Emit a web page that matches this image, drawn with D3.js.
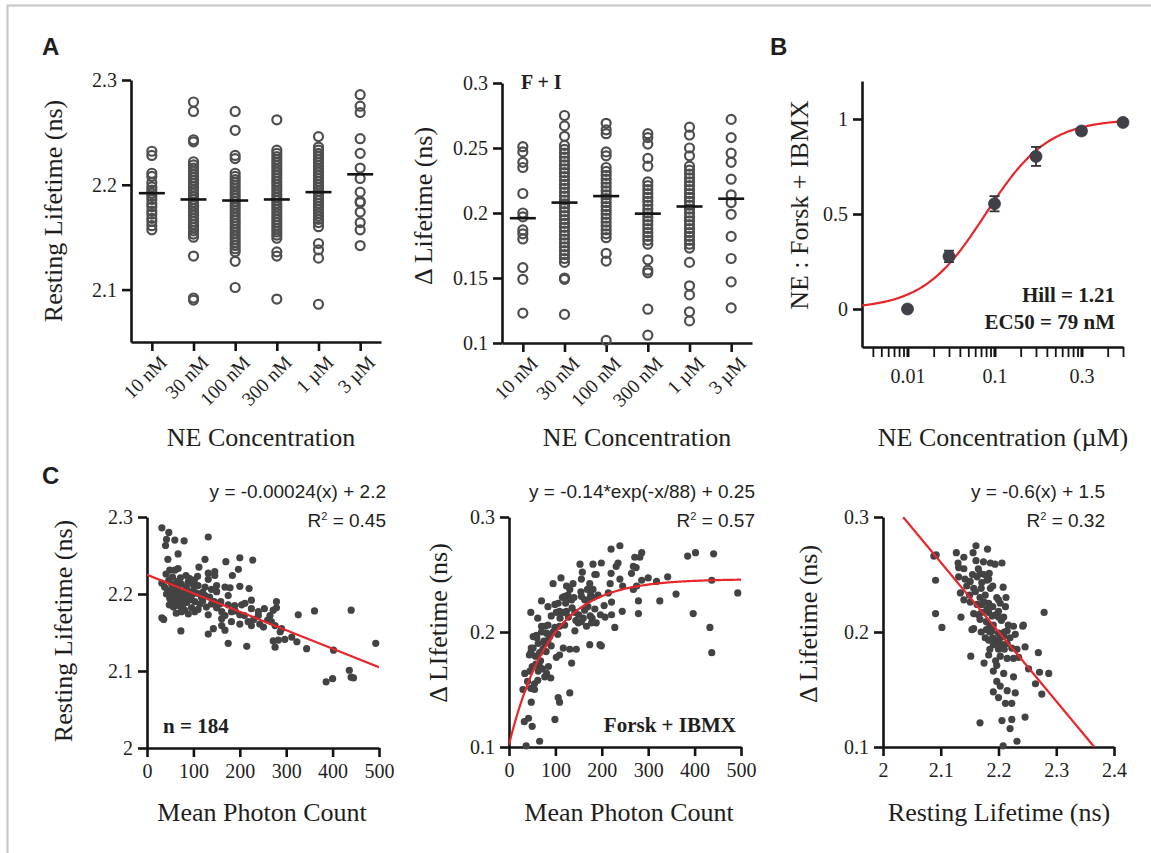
<!DOCTYPE html>
<html>
<head>
<meta charset="utf-8">
<script src="https://cdn.jsdelivr.net/npm/d3@7"></script>
<style>
  body { margin: 0; background: #fff; }
  svg text { font-family: "Liberation Serif", serif; fill: #1e1e1e; }
</style>
</head>
<body>
<svg id="fig" width="1151" height="853"></svg>
<script>
// ---------- Panel A: resting and Δ lifetime per NE concentration ----------
const concLabels = ["10 nM", "30 nM", "100 nM", "300 nM", "1 µM", "3 µM"];

const restingByConc = [
  [2.232, 2.228, 2.211, 2.208, 2.202, 2.198, 2.195, 2.192, 2.189, 2.186, 2.182, 2.179, 2.175, 2.172, 2.168, 2.165, 2.161, 2.157],
  [2.279, 2.270, 2.243, 2.241, 2.222, 2.219, 2.216, 2.213, 2.210, 2.207, 2.204, 2.201, 2.198, 2.195, 2.192, 2.189, 2.186, 2.183, 2.180, 2.177, 2.174, 2.171, 2.168, 2.165, 2.162, 2.159, 2.156, 2.153, 2.150, 2.132, 2.092, 2.090],
  [2.270, 2.252, 2.228, 2.225, 2.211, 2.208, 2.205, 2.202, 2.199, 2.196, 2.193, 2.190, 2.187, 2.184, 2.181, 2.178, 2.175, 2.172, 2.169, 2.166, 2.163, 2.160, 2.157, 2.154, 2.151, 2.148, 2.145, 2.142, 2.139, 2.136, 2.127, 2.102],
  [2.262, 2.233, 2.230, 2.227, 2.224, 2.221, 2.218, 2.215, 2.212, 2.209, 2.206, 2.203, 2.200, 2.197, 2.194, 2.191, 2.188, 2.185, 2.182, 2.179, 2.176, 2.173, 2.170, 2.167, 2.164, 2.161, 2.158, 2.155, 2.152, 2.149, 2.136, 2.132, 2.091],
  [2.246, 2.236, 2.233, 2.230, 2.227, 2.224, 2.221, 2.218, 2.215, 2.212, 2.209, 2.206, 2.203, 2.200, 2.197, 2.194, 2.191, 2.188, 2.185, 2.182, 2.179, 2.176, 2.173, 2.170, 2.167, 2.164, 2.160, 2.144, 2.138, 2.130, 2.086],
  [2.286, 2.275, 2.269, 2.244, 2.230, 2.216, 2.206, 2.193, 2.184, 2.183, 2.174, 2.164, 2.157, 2.142]
];
const restingMeans = [2.192, 2.186, 2.185, 2.186, 2.193, 2.210];

const deltaByConc = [
  [0.251, 0.247, 0.239, 0.235, 0.215, 0.200, 0.197, 0.187, 0.184, 0.180, 0.158, 0.149, 0.123],
  [0.275, 0.267, 0.259, 0.252, 0.249, 0.246, 0.243, 0.240, 0.237, 0.234, 0.231, 0.228, 0.225, 0.222, 0.219, 0.216, 0.213, 0.210, 0.207, 0.204, 0.201, 0.198, 0.195, 0.192, 0.189, 0.186, 0.183, 0.180, 0.177, 0.174, 0.171, 0.168, 0.165, 0.162, 0.150, 0.149, 0.122],
  [0.269, 0.264, 0.261, 0.247, 0.244, 0.235, 0.232, 0.229, 0.226, 0.223, 0.220, 0.217, 0.214, 0.211, 0.208, 0.205, 0.202, 0.199, 0.196, 0.193, 0.190, 0.187, 0.184, 0.181, 0.169, 0.163, 0.102],
  [0.261, 0.258, 0.253, 0.242, 0.236, 0.224, 0.221, 0.218, 0.215, 0.212, 0.209, 0.206, 0.203, 0.200, 0.197, 0.194, 0.191, 0.188, 0.185, 0.182, 0.179, 0.176, 0.164, 0.156, 0.154, 0.126, 0.106],
  [0.266, 0.260, 0.250, 0.244, 0.236, 0.233, 0.230, 0.227, 0.224, 0.221, 0.218, 0.215, 0.212, 0.209, 0.206, 0.203, 0.200, 0.197, 0.194, 0.191, 0.188, 0.185, 0.182, 0.179, 0.176, 0.173, 0.162, 0.144, 0.137, 0.124, 0.117],
  [0.272, 0.258, 0.246, 0.239, 0.226, 0.214, 0.208, 0.199, 0.182, 0.165, 0.147, 0.127]
];
const deltaMeans = [0.196, 0.208, 0.213, 0.1995, 0.205, 0.211];

const restingTicks = [2.1, 2.2, 2.3];
const deltaTicksA = [0.1, 0.15, 0.2, 0.25, 0.3];

// ---------- Panel B: dose-response ----------
const doseConc = [0.01, 0.03, 0.1, 0.3, 1, 3];
const doseResp = [0.0, 0.277, 0.554, 0.803, 0.937, 0.982];
const doseErr  = [0.0, 0.030, 0.040, 0.050, 0.015, 0.010];
const hillCoef = 1.21;
const ec50 = 0.079;          // µM
const doseYTicks = [0, 0.5, 1];
const doseYLabels = ["0", "0.5", "1"];
const doseXTicks = [0.01, 0.1, 1];
const doseXLabels = ["0.01", "0.1", "0.3"];

// ---------- Panel C: per-cell scatter ----------
const photonVsResting = [
  [32,2.286],[47,2.280],[42,2.271],[40,2.263],[60,2.270],[80,2.269],[132,2.274],[67,2.252],[45,2.245],[125,2.245],
  [200,2.247],[228,2.244],[170,2.242],[112,2.235],[197,2.232],[146,2.229],[132,2.227],[49,2.231],[60,2.231],[67,2.233],
  [41,2.226],[84,2.224],[146,2.224],[184,2.224],[109,2.223],[92,2.220],[132,2.219],[32,2.214],[47,2.218],[53,2.213],
  [63,2.211],[74,2.213],[89,2.216],[99,2.213],[110,2.211],[125,2.209],[139,2.206],[150,2.211],[168,2.209],[179,2.208],
  [200,2.210],[220,2.207],[67,2.207],[85,2.209],[54,2.203],[63,2.198],[49,2.194],[74,2.196],[58,2.190],[45,2.205],
  [38,2.209],[71,2.190],[81,2.192],[96,2.198],[103,2.190],[117,2.196],[125,2.198],[135,2.196],[150,2.203],[175,2.198],
  [159,2.190],[175,2.186],[189,2.185],[204,2.186],[211,2.188],[225,2.192],[279,2.190],[139,2.187],[114,2.187],[128,2.183],
  [96,2.182],[81,2.179],[63,2.175],[89,2.174],[74,2.177],[103,2.177],[132,2.173],[157,2.187],[161,2.177],[168,2.172],
  [182,2.177],[200,2.173],[210,2.172],[225,2.181],[240,2.177],[253,2.181],[240,2.172],[272,2.179],[279,2.182],[265,2.172],
  [326,2.173],[361,2.178],[440,2.179],[32,2.169],[36,2.167],[161,2.168],[182,2.164],[200,2.161],[218,2.164],[225,2.159],
  [243,2.161],[251,2.157],[268,2.164],[276,2.159],[290,2.155],[287,2.151],[161,2.159],[168,2.153],[143,2.155],[132,2.148],
  [73,2.152],[175,2.136],[215,2.132],[276,2.131],[272,2.139],[283,2.140],[297,2.141],[312,2.144],[323,2.138],[344,2.129],
  [402,2.127],[436,2.101],[493,2.136],[386,2.086],[400,2.090],[440,2.092],[445,2.091],[56,2.200],[60,2.205],[66,2.202],
  [70,2.199],[52,2.197],[58,2.208],[78,2.201],[84,2.197],[90,2.202],[62,2.193],[68,2.185],[77,2.186],[86,2.189],
  [94,2.193],[108,2.201],[100,2.205],[120,2.202],[57,2.183],[110,2.180],[145,2.190],[150,2.182],[190,2.178],[230,2.167],
  [260,2.166],[120,2.191],[65,2.216],[72,2.221],[55,2.222],[102,2.218],[42,2.200],[48,2.186]
];

const photonVsDelta = [
  [239,0.275],[220,0.272],[286,0.269],[282,0.265],[271,0.265],[385,0.266],[402,0.269],[441,0.268],[235,0.260],[231,0.257],
  [199,0.260],[181,0.259],[153,0.259],[268,0.257],[274,0.256],[264,0.251],[220,0.251],[185,0.250],[158,0.252],[112,0.247],
  [95,0.242],[138,0.242],[156,0.246],[174,0.242],[188,0.250],[239,0.246],[286,0.245],[300,0.247],[318,0.244],[342,0.248],
  [437,0.245],[245,0.240],[268,0.237],[275,0.240],[218,0.242],[214,0.234],[124,0.240],[131,0.237],[155,0.235],[169,0.237],
  [181,0.237],[176,0.232],[156,0.231],[127,0.232],[120,0.231],[70,0.227],[84,0.222],[99,0.224],[106,0.225],[124,0.228],
  [135,0.228],[163,0.228],[181,0.230],[192,0.232],[221,0.226],[279,0.227],[325,0.227],[360,0.233],[493,0.234],[47,0.217],
  [62,0.212],[91,0.214],[102,0.217],[109,0.218],[124,0.218],[142,0.217],[163,0.219],[170,0.222],[179,0.212],[197,0.215],
  [207,0.213],[221,0.215],[244,0.218],[279,0.216],[397,0.216],[70,0.205],[77,0.205],[84,0.206],[99,0.204],[109,0.205],
  [120,0.206],[142,0.201],[149,0.208],[156,0.209],[167,0.205],[178,0.208],[188,0.208],[228,0.204],[199,0.188],[174,0.189],
  [196,0.189],[433,0.204],[437,0.182],[52,0.196],[59,0.197],[48,0.186],[47,0.182],[57,0.179],[63,0.190],[66,0.182],
  [73,0.185],[77,0.190],[81,0.199],[84,0.193],[91,0.188],[102,0.178],[109,0.180],[117,0.186],[131,0.185],[145,0.185],
  [135,0.173],[34,0.164],[30,0.150],[40,0.157],[55,0.150],[47,0.151],[48,0.139],[66,0.170],[63,0.166],[81,0.164],
  [77,0.161],[131,0.147],[106,0.143],[109,0.139],[99,0.124],[33,0.122],[42,0.125],[50,0.118],[37,0.101],[66,0.105],
  [60,0.195],[70,0.200],[75,0.192],[88,0.196],[95,0.200],[110,0.212],[118,0.217],[122,0.225],[128,0.213],[136,0.221],
  [144,0.210],[150,0.215],[160,0.212],[140,0.230],[115,0.230],[105,0.198],[68,0.175],[58,0.172],[50,0.170],[45,0.166],
  [72,0.168],[85,0.170],[90,0.160],[62,0.158],[55,0.155],[44,0.180],[52,0.186],[80,0.183],[170,0.228],[175,0.214],
  [205,0.223],[185,0.220]
];

const restingVsDelta = [
  [2.161,0.275],[2.127,0.269],[2.181,0.272],[2.156,0.269],[2.140,0.265],[2.088,0.266],[2.092,0.267],[2.161,0.262],[2.174,0.261],[2.186,0.260],
  [2.194,0.259],[2.206,0.260],[2.131,0.256],[2.091,0.245],[2.131,0.248],[2.142,0.246],[2.151,0.244],[2.163,0.248],[2.168,0.251],[2.184,0.251],
  [2.171,0.243],[2.183,0.246],[2.157,0.238],[2.186,0.238],[2.208,0.239],[2.134,0.234],[2.140,0.228],[2.168,0.230],[2.177,0.232],[2.197,0.230],
  [2.213,0.230],[2.151,0.226],[2.163,0.224],[2.171,0.224],[2.183,0.225],[2.203,0.225],[2.212,0.222],[2.091,0.216],[2.279,0.217],[2.135,0.213],
  [2.102,0.204],[2.157,0.216],[2.171,0.217],[2.183,0.217],[2.189,0.214],[2.200,0.213],[2.209,0.213],[2.200,0.218],[2.168,0.211],[2.179,0.209],
  [2.191,0.206],[2.217,0.206],[2.226,0.205],[2.242,0.205],[2.243,0.206],[2.154,0.202],[2.157,0.203],[2.179,0.202],[2.189,0.201],[2.200,0.199],
  [2.209,0.196],[2.215,0.201],[2.229,0.198],[2.177,0.195],[2.183,0.193],[2.194,0.193],[2.203,0.195],[2.191,0.189],[2.206,0.189],[2.215,0.190],
  [2.223,0.186],[2.232,0.185],[2.246,0.187],[2.200,0.185],[2.152,0.179],[2.183,0.180],[2.203,0.179],[2.215,0.177],[2.226,0.177],[2.235,0.178],
  [2.269,0.182],[2.175,0.173],[2.197,0.171],[2.191,0.166],[2.209,0.164],[2.226,0.161],[2.252,0.168],[2.271,0.165],[2.287,0.164],[2.264,0.155],
  [2.275,0.146],[2.197,0.157],[2.203,0.153],[2.191,0.148],[2.215,0.149],[2.229,0.147],[2.200,0.143],[2.212,0.138],[2.223,0.138],[2.168,0.121],
  [2.206,0.123],[2.223,0.124],[2.246,0.126],[2.220,0.116],[2.232,0.105],[2.208,0.101],[2.160,0.235],[2.170,0.238],[2.175,0.226],[2.180,0.220],
  [2.190,0.222],[2.195,0.215],[2.185,0.205],[2.170,0.200],[2.190,0.195],[2.205,0.210],[2.210,0.185],[2.200,0.190],[2.185,0.185],[2.195,0.175],
  [2.165,0.215],[2.150,0.232],[2.145,0.240],[2.155,0.250],[2.165,0.255],[2.180,0.245],[2.190,0.240],[2.175,0.250],[2.200,0.228],[2.210,0.200],
  [2.220,0.195],[2.130,0.260],[2.140,0.255],[2.185,0.200]
];

// fitted relationships (as printed on the panels)
const linFit1 = { slope: -0.00024, intercept: 2.225 };
const expFit  = { a: -0.144, tau: 88, c: 0.246 };
const linFit3 = { slope: -0.604, intercept: 1.529 };

const photonTicks = [0, 100, 200, 300, 400, 500];
const restingTicksC = [2, 2.1, 2.2, 2.3];
const deltaTicksC = [0.1, 0.2, 0.3];
const restingXTicks = [2, 2.1, 2.2, 2.3, 2.4];

// ---------- drawing ----------
const svg = d3.select("#fig");
const INK = "#141414";
const DOT = "#434343";
const RED = "#e8262b";
const AXW = 2.6;
const TICK_FS = 20;
const SERIF = "'Liberation Serif', serif";
const SANS = "'Liberation Sans', Arial, sans-serif";

svg.append("rect").attr("x", 7.5).attr("y", 5.5).attr("width", 1200).attr("height", 900)
  .attr("fill", "none").attr("stroke", "#c9c9c9").attr("stroke-width", 2.2);

function styleAxis(g, fs) {
  g.attr("font-size", fs || TICK_FS);
  g.select(".domain").attr("stroke", INK).attr("stroke-width", AXW);
  g.selectAll(".tick line").attr("stroke", INK).attr("stroke-width", AXW);
  g.selectAll(".tick text").style("font-family", SERIF).attr("fill", "#1e1e1e");
  return g;
}

function yTitle(x, y, txt) {
  svg.append("text").attr("transform", `translate(${x},${y}) rotate(-90)`)
    .attr("text-anchor", "middle").attr("font-size", 26).text(txt);
}
function xTitle(x, y, txt) {
  svg.append("text").attr("x", x).attr("y", y).attr("text-anchor", "middle")
    .attr("font-size", 26).text(txt);
}
function panelLetter(x, y, t) {
  svg.append("text").attr("x", x).attr("y", y).text(t)
    .style("font-family", SANS)
    .attr("font-weight", "bold").attr("font-size", 24).attr("fill", "#000");
}

panelLetter(42, 55, "A");
panelLetter(770, 55, "B");
panelLetter(42, 484, "C");

// strip plot with open circles and mean bars
function stripPanel(opts) {
  const x = d3.scalePoint().domain(concLabels).range([opts.x0, opts.x1]).padding(0.5);
  const y = d3.scaleLinear().domain(opts.yDomain).range([opts.yBottom, opts.yTop]);

  const gy = svg.append("g").attr("transform", `translate(${opts.x0},0)`)
    .call(d3.axisLeft(y).tickValues(opts.yTicks).tickFormat(d => String(d)).tickSize(9).tickSizeOuter(0).tickPadding(5));
  styleAxis(gy);
  const gx = svg.append("g").attr("transform", `translate(0,${opts.yBottom})`)
    .call(d3.axisBottom(x).tickSize(9).tickSizeOuter(0).tickFormat(""));
  styleAxis(gx);
  gx.selectAll(".tick").append("text")
    .attr("transform", "translate(6,12) rotate(-45)")
    .attr("text-anchor", "end").attr("dy", "0.7em")
    .attr("font-size", 19.5).attr("fill", "#1e1e1e")
    .text(d => d);

  const groups = svg.append("g");
  opts.values.forEach((vals, i) => {
    groups.selectAll(null).data(vals).join("circle")
      .attr("cx", x(concLabels[i])).attr("cy", d => y(d)).attr("r", 4.5)
      .attr("fill", "none").attr("stroke", "#4e4e4e").attr("stroke-width", 2.2);
  });
  svg.append("g").selectAll("line").data(opts.means).join("line")
    .attr("x1", (d, i) => x(concLabels[i]) - 13).attr("x2", (d, i) => x(concLabels[i]) + 13)
    .attr("y1", d => y(d)).attr("y2", d => y(d))
    .attr("stroke", INK).attr("stroke-width", 2.6);
  return { x, y };
}

stripPanel({ x0: 131, x1: 381, yTop: 80, yBottom: 342, yDomain: [2.05, 2.3],
  yTicks: restingTicks, values: restingByConc, means: restingMeans });
yTitle(62, 211, "Resting Lifetime (ns)");
xTitle(261, 446, "NE Concentration");

stripPanel({ x0: 502, x1: 752, yTop: 83, yBottom: 343, yDomain: [0.1, 0.3],
  yTicks: deltaTicksA, values: deltaByConc, means: deltaMeans });
yTitle(432, 206, "Δ Lifetime (ns)");
xTitle(637, 446, "NE Concentration");
svg.append("text").attr("x", 521).attr("y", 89).attr("font-size", 20).attr("font-weight", "bold").text("F + I");

// ---------- B ----------
{
  const x = d3.scaleLog().domain([0.003, 3]).range([862, 1123]);
  const y = d3.scaleLinear().domain([-0.2, 1.2]).range([347, 81]);

  const gy = svg.append("g").attr("transform", "translate(862,0)")
    .call(d3.axisLeft(y).tickValues(doseYTicks).tickFormat((d, i) => doseYLabels[i]).tickSize(9).tickSizeOuter(0).tickPadding(5));
  styleAxis(gy);

  const allTicks = x.ticks().filter(t => t > 0.003);
  const minor = allTicks.filter(t => Math.abs(Math.log10(t) - Math.round(Math.log10(t))) > 1e-6);
  const gm = svg.append("g").attr("transform", "translate(0,347)")
    .call(d3.axisBottom(x).tickValues(minor).tickFormat("").tickSize(10).tickSizeOuter(0));
  styleAxis(gm);
  gm.selectAll(".tick line").attr("stroke-width", 1.8);
  const gM = svg.append("g").attr("transform", "translate(0,347)")
    .call(d3.axisBottom(x).tickValues(doseXTicks).tickFormat((d, i) => doseXLabels[i]).tickSize(10).tickSizeOuter(0).tickPadding(12));
  styleAxis(gM);
  gM.select(".domain").remove();
  gM.selectAll(".tick line").attr("stroke-width", 3);

  const curveX = d3.range(0, 201).map(i => 0.003 * Math.pow(1000, i / 200));
  const hillFn = c => 1 / (1 + Math.pow(ec50 / c, hillCoef));
  svg.append("path").datum(curveX)
    .attr("d", d3.line().x(c => x(c)).y(c => y(hillFn(c))))
    .attr("fill", "none").attr("stroke", RED).attr("stroke-width", 2.2);

  const pts = svg.append("g");
  doseConc.forEach((c, i) => {
    if (doseErr[i] > 0) {
      const y0 = y(doseResp[i] - doseErr[i]), y1 = y(doseResp[i] + doseErr[i]);
      pts.append("line").attr("x1", x(c)).attr("x2", x(c)).attr("y1", y0).attr("y2", y1).attr("stroke", "#333").attr("stroke-width", 1.8);
      [y0, y1].forEach(yy => pts.append("line").attr("x1", x(c) - 5).attr("x2", x(c) + 5).attr("y1", yy).attr("y2", yy).attr("stroke", "#333").attr("stroke-width", 1.8));
    }
  });
  pts.selectAll("circle").data(doseConc).join("circle")
    .attr("cx", d => x(d)).attr("cy", (d, i) => y(doseResp[i])).attr("r", 6)
    .attr("fill", "#404046").attr("stroke", "#3a3a50").attr("stroke-width", 0.8);

  svg.append("text").attr("x", 1115).attr("y", 302).attr("text-anchor", "end").attr("font-size", 21).attr("font-weight", "bold").text("Hill = 1.21");
  svg.append("text").attr("x", 1115).attr("y", 329).attr("text-anchor", "end").attr("font-size", 21).attr("font-weight", "bold").text("EC50 = 79 nM");

  yTitle(808, 205, "NE : Forsk + IBMX");
  xTitle(1003, 446, "NE Concentration (µM)");
}

// ---------- C ----------
function scatterPanel(o) {
  const x = d3.scaleLinear().domain(o.xDomain).range([o.x0, o.x1]);
  const y = d3.scaleLinear().domain(o.yDomain).range([o.y0, o.y1]);
  const gy = svg.append("g").attr("transform", `translate(${o.x0},0)`)
    .call(d3.axisLeft(y).tickValues(o.yTicks).tickFormat(d => String(d)).tickSize(9).tickSizeOuter(0).tickPadding(5));
  styleAxis(gy);
  const gx = svg.append("g").attr("transform", `translate(0,${o.y0})`)
    .call(d3.axisBottom(x).tickValues(o.xTicks).tickFormat(d => String(d)).tickSize(9).tickSizeOuter(0).tickPadding(7));
  styleAxis(gx);

  const clipId = o.id + "-clip";
  svg.append("clipPath").attr("id", clipId).append("rect")
    .attr("x", o.x0).attr("y", o.y1).attr("width", o.x1 - o.x0).attr("height", o.y0 - o.y1);

  svg.append("g").selectAll("circle").data(o.points).join("circle")
    .attr("cx", d => x(d[0])).attr("cy", d => y(d[1])).attr("r", 3.6).attr("fill", DOT);

  svg.append("path").datum(o.fitX)
    .attr("clip-path", `url(#${clipId})`)
    .attr("d", d3.line().x(v => x(v)).y(v => y(o.fit(v))))
    .attr("fill", "none").attr("stroke", RED).attr("stroke-width", 2.2);

  svg.append("text").attr("x", o.eqX).attr("y", 498).attr("text-anchor", "end")
    .style("font-family", SANS).attr("font-size", 19).text(o.eq);
  const r = svg.append("text").attr("x", o.eqX).attr("y", 527).attr("text-anchor", "end")
    .style("font-family", SANS).attr("font-size", 19);
  r.append("tspan").text("R");
  r.append("tspan").attr("dy", -7).attr("font-size", 11).text("2");
  r.append("tspan").attr("dy", 7).text(" = " + o.r2);
  return { x, y };
}

scatterPanel({ id: "c1", x0: 147, x1: 379, y0: 748, y1: 517, xDomain: [0, 500], yDomain: [2, 2.3],
  xTicks: photonTicks, yTicks: restingTicksC, points: photonVsResting,
  fitX: [0, 500], fit: v => linFit1.slope * v + linFit1.intercept,
  eq: "y = -0.00024(x) + 2.2", r2: "0.45", eqX: 386 });
yTitle(72, 631, "Resting Lifetime (ns)");
xTitle(262, 821, "Mean Photon Count");
svg.append("text").attr("x", 163).attr("y", 733).attr("font-size", 21).attr("font-weight", "bold").text("n = 184");

scatterPanel({ id: "c2", x0: 509, x1: 741, y0: 747, y1: 517, xDomain: [0, 500], yDomain: [0.1, 0.3],
  xTicks: photonTicks, yTicks: deltaTicksC, points: photonVsDelta,
  fitX: d3.range(0, 501, 2), fit: v => expFit.a * Math.exp(-v / expFit.tau) + expFit.c,
  eq: "y = -0.14*exp(-x/88) + 0.25", r2: "0.57", eqX: 755 });
yTitle(447, 623, "Δ LIfetime (ns)");
xTitle(629, 821, "Mean Photon Count");
svg.append("text").attr("x", 736).attr("y", 732).attr("text-anchor", "end").attr("font-size", 21).attr("font-weight", "bold").text("Forsk + IBMX");

scatterPanel({ id: "c3", x0: 883, x1: 1114, y0: 747, y1: 517, xDomain: [2, 2.4], yDomain: [0.1, 0.3],
  xTicks: restingXTicks, yTicks: deltaTicksC, points: restingVsDelta,
  fitX: [(0.3 - linFit3.intercept) / linFit3.slope, (0.1 - linFit3.intercept) / linFit3.slope],
  fit: v => linFit3.slope * v + linFit3.intercept,
  eq: "y = -0.6(x) + 1.5", r2: "0.32", eqX: 1105 });
yTitle(817, 624, "Δ Lifetime (ns)");
xTitle(999, 821, "Resting Lifetime (ns)");
</script>
</body>
</html>
